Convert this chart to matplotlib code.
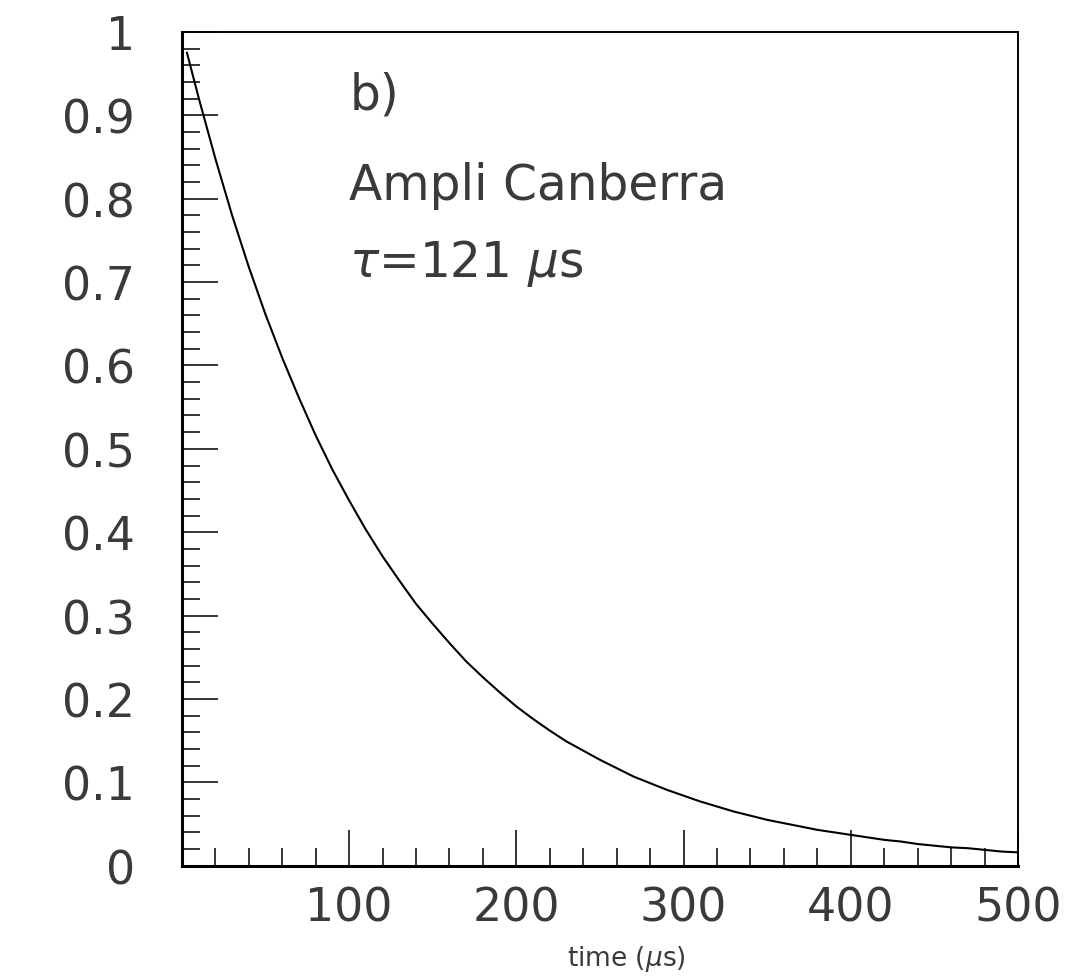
import matplotlib
matplotlib.use("Agg")
import matplotlib.pyplot as plt
from matplotlib.ticker import MultipleLocator, FixedLocator

# Data
time_us = [3, 10, 20, 30, 40, 50, 60, 70, 80, 90, 100, 110, 120, 130, 140, 150,
           160, 170, 180, 190, 200, 210, 220, 230, 240, 250, 260, 270, 280, 290,
           300, 310, 320, 330, 340, 350, 360, 370, 380, 390, 400, 410, 420, 430,
           440, 450, 460, 470, 480, 490, 500]
amplitude = [0.975, 0.921, 0.848, 0.780, 0.718, 0.661, 0.609, 0.561, 0.516, 0.475,
             0.438, 0.403, 0.371, 0.342, 0.314, 0.290, 0.267, 0.245, 0.226, 0.208,
             0.191, 0.176, 0.162, 0.149, 0.138, 0.127, 0.117, 0.107, 0.099, 0.091,
             0.084, 0.077, 0.071, 0.065, 0.060, 0.055, 0.051, 0.047, 0.043, 0.040,
             0.037, 0.034, 0.031, 0.029, 0.026, 0.024, 0.022, 0.021, 0.019, 0.017,
             0.016]
x_major = [100, 200, 300, 400, 500]
x_labels = ["100", "200", "300", "400", "500"]
y_major = [0, 0.1, 0.2, 0.3, 0.4, 0.5, 0.6, 0.7, 0.8, 0.9, 1.0]
y_labels = ["0", "0.1", "0.2", "0.3", "0.4", "0.5", "0.6", "0.7", "0.8", "0.9", "1"]
annotations = ["b)", "Ampli Canberra", r"$\tau$=121 $\mu$s"]

plt.rcParams['font.family'] = ['DejaVu Sans']
plt.rcParams['mathtext.fontset'] = 'dejavusans'
txt_color = '#3a3a3a'

fig = plt.figure(figsize=(10.76, 9.78), dpi=100)
ax = fig.add_axes([0.1691, 0.1138, 0.7770, 0.8525])

ax.plot(time_us, amplitude, color='black', linewidth=1.5)

ax.set_xlim(0, 500)
ax.set_ylim(0, 1)

ax.xaxis.set_major_locator(FixedLocator(x_major))
ax.set_xticklabels(x_labels)
ax.xaxis.set_minor_locator(MultipleLocator(20))
ax.yaxis.set_major_locator(FixedLocator(y_major))
ax.set_yticklabels(y_labels)
ax.yaxis.set_minor_locator(MultipleLocator(0.02))

ax.tick_params(axis='both', which='major', direction='in', length=26, width=1.1,
               color='black', labelsize=33, labelcolor=txt_color)
ax.tick_params(axis='both', which='minor', direction='in', length=13, width=1.1,
               color='black')
ax.tick_params(axis='x', which='major', pad=14)
ax.tick_params(axis='y', which='major', pad=34)
ax.tick_params(top=False, right=False, which='both')

for side in ['left', 'bottom']:
    ax.spines[side].set_linewidth(2.2)
for side in ['top', 'right']:
    ax.spines[side].set_linewidth(1.4)

ax.set_xlabel(r"time ($\mu$s)", fontsize=19, color=txt_color)
ax.xaxis.set_label_coords(0.532, -0.093)

ys = [0.908, 0.800, 0.707]
for t, yv in zip(annotations, ys):
    ax.text(100, yv, t, fontsize=35, color=txt_color, va='baseline', ha='left')

fig.savefig("out.png", dpi=100)
